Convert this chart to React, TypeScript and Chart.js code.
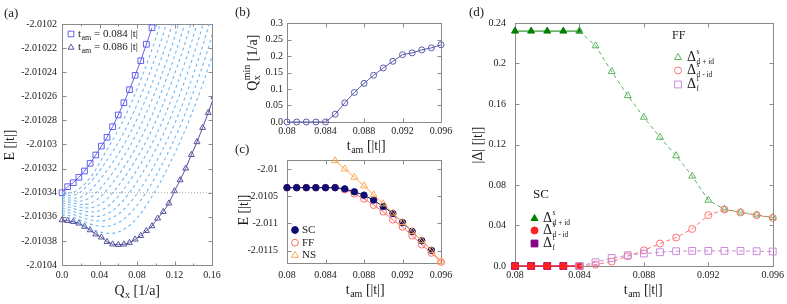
import React, { useEffect, useRef } from "react";
import { Chart, registerables } from "chart.js";

Chart.register(...registerables);

const PAGE_W = 787;
const PAGE_H = 304;
const SERIF = '"Liberation Serif", "DejaVu Serif", "Times New Roman", serif';
const TEXT = "#1a1a1a";
const FRAME = "#8a8a8a";

// ---------------- Panel (a): E vs Q_x ----------------
const aQSquares = [0, 0.006, 0.012, 0.018, 0.024, 0.03, 0.036, 0.042, 0.048, 0.054, 0.06, 0.066, 0.072, 0.078, 0.084, 0.09, 0.096];
const aESquares = [-2.01034, -2.010335, -2.0103317, -2.0103272, -2.010322, -2.0103156, -2.0103087, -2.0103013, -2.010294, -2.0102852, -2.0102755, -2.0102653, -2.0102545, -2.0102426, -2.0102305, -2.0102168, -2.0102031];
const aQTriangles = [0, 0.006, 0.012, 0.018, 0.024, 0.03, 0.036, 0.042, 0.048, 0.054, 0.06, 0.066, 0.072, 0.078, 0.084, 0.09, 0.096, 0.102, 0.108, 0.114, 0.12, 0.126, 0.132, 0.138, 0.144, 0.15, 0.156, 0.162];
const aETriangles = [-2.0103627, -2.0103633, -2.0103641, -2.0103654, -2.0103681, -2.010371, -2.0103745, -2.010377, -2.0103807, -2.0103828, -2.0103832, -2.0103828, -2.0103815, -2.0103787, -2.0103757, -2.0103716, -2.0103677, -2.0103613, -2.0103558, -2.0103488, -2.0103386, -2.0103295, -2.0103198, -2.0103085, -2.0102979, -2.0102861, -2.0102736, -2.0102605];
const aQDashed = [
  [0, 0.0101, 0.03, 0.0478, 0.0681, 0.0919, 0.1046, 0.1216],
  [0, 0.008, 0.0135, 0.019, 0.0552, 0.0751, 0.0986, 0.1111, 0.1281],
  [0, 0.013, 0.0204, 0.0277, 0.0626, 0.082, 0.1053, 0.1176, 0.1346],
  [0, 0.018, 0.0273, 0.0366, 0.07, 0.089, 0.112, 0.1242, 0.1412],
  [0, 0.023, 0.0342, 0.0454, 0.0774, 0.096, 0.1186, 0.1307, 0.1477],
  [0, 0.028, 0.0411, 0.0542, 0.0848, 0.103, 0.1253, 0.1373, 0.1543],
  [0, 0.032, 0.0476, 0.0631, 0.0923, 0.11, 0.132, 0.1439, 0.1609],
  [0, 0.036, 0.054, 0.0719, 0.0996, 0.1169, 0.1386, 0.1504, 0.1674],
  [0, 0.04, 0.0604, 0.0808, 0.1071, 0.124, 0.1453, 0.1569, 0.1739],
  [0, 0.045, 0.0673, 0.0895, 0.1144, 0.1309, 0.152, 0.1634, 0.1804],
  [0, 0.051, 0.0747, 0.0984, 0.1219, 0.1379, 0.1587, 0.17, 0.187],
];
const aEDashed = [
  [-2.0103406, -2.01034, -2.0103275, -2.0103046, -2.0102755, -2.0102299, -2.0102, -2.0101469],
  [-2.0103415, -2.0103423, -2.0103417, -2.01034, -2.0103046, -2.0102755, -2.0102299, -2.0102, -2.0101469],
  [-2.0103431, -2.0103446, -2.0103435, -2.01034, -2.0103046, -2.0102755, -2.0102299, -2.0102, -2.0101469],
  [-2.0103448, -2.0103471, -2.0103453, -2.01034, -2.0103046, -2.0102755, -2.0102299, -2.0102, -2.0101469],
  [-2.0103465, -2.0103498, -2.0103474, -2.01034, -2.0103046, -2.0102755, -2.0102299, -2.0102, -2.0101469],
  [-2.0103485, -2.0103527, -2.0103495, -2.01034, -2.0103046, -2.0102755, -2.0102299, -2.0102, -2.0101469],
  [-2.0103506, -2.010356, -2.010352, -2.01034, -2.0103046, -2.0102755, -2.0102299, -2.0102, -2.0101469],
  [-2.0103527, -2.0103597, -2.0103548, -2.01034, -2.0103046, -2.0102755, -2.0102299, -2.0102, -2.0101469],
  [-2.0103548, -2.0103635, -2.0103576, -2.01034, -2.0103046, -2.0102755, -2.0102299, -2.0102, -2.0101469],
  [-2.0103568, -2.010368, -2.010361, -2.01034, -2.0103046, -2.0102755, -2.0102299, -2.0102, -2.0101469],
  [-2.0103585, -2.0103738, -2.0103654, -2.01034, -2.0103046, -2.0102755, -2.0102299, -2.0102, -2.0101469],
];
const aRefE = -2.01034;
const aXTicks = [0, 0.04, 0.08, 0.12, 0.16];
const aXLabels = ["0.0", "0.04", "0.08", "0.12", "0.16"];
const aXMinor = [0.02, 0.06, 0.1, 0.14];
const aYTicks = [-2.0104, -2.01038, -2.01036, -2.01034, -2.01032, -2.0103, -2.01028, -2.01026, -2.01024, -2.01022, -2.0102];
const aYLabels = ["-2.0104", "-2.01038", "-2.01036", "-2.01034", "-2.01032", "-2.0103", "-2.01028", "-2.01026", "-2.01024", "-2.01022", "-2.0102"];
const aLegend = ["0.084", "0.086"];

// ---------------- Panel (b): Q_x^min vs t_am ----------------
const tAll = [0.08, 0.081, 0.082, 0.083, 0.084, 0.085, 0.086, 0.087, 0.088, 0.089, 0.09, 0.091, 0.092, 0.093, 0.094, 0.095, 0.096];
const bQmin = [0, 0, 0, 0, 0, 0.0235, 0.058, 0.0896, 0.117, 0.1415, 0.1637, 0.184, 0.204, 0.2095, 0.2186, 0.2247, 0.234];
const tXTicks = [0.08, 0.084, 0.088, 0.092, 0.096];
const tXLabels = ["0.08", "0.084", "0.088", "0.092", "0.096"];
const bYTicks = [0, 0.05, 0.1, 0.15, 0.2, 0.25, 0.3];
const bYLabels = ["0.0", "0.05", "0.1", "0.15", "0.2", "0.25", "0.3"];

// ---------------- Panel (c): E vs t_am ----------------
const cTSC = [0.08, 0.081, 0.082, 0.083, 0.084, 0.085, 0.086, 0.087, 0.088, 0.089, 0.09, 0.091, 0.092, 0.093, 0.094, 0.095];
const cESC = [-2.01034, -2.01034, -2.01034, -2.01034, -2.01034, -2.01034, -2.010362, -2.010417, -2.010478, -2.01057, -2.010687, -2.010816, -2.010982, -2.011147, -2.011318, -2.011496];
const cEFF = [-2.01034, -2.01034, -2.01034, -2.01034, -2.01034, -2.01034, -2.010375, -2.010454, -2.010546, -2.010662, -2.010785, -2.010932, -2.011066, -2.011226, -2.011392, -2.011544, -2.01171];
const cTNS = [0.085, 0.086, 0.087, 0.088, 0.089, 0.09, 0.091, 0.092, 0.093, 0.094, 0.095, 0.096];
const cENS = [-2.009842, -2.009995, -2.010147, -2.010307, -2.010472, -2.010638, -2.010809, -2.010982, -2.011147, -2.011318, -2.011496, -2.01171];
const cYTicks = [-2.0115, -2.011, -2.0105, -2.01];
const cYLabels = ["-2.0115", "-2.011", "-2.0105", "-2.01"];
const cLegend = ["SC", "FF", "NS"];

// ---------------- Panel (d): |Delta| vs t_am ----------------
const dTSC = [0.08, 0.081, 0.082, 0.083, 0.084];
const dSCdPlus = [0.232, 0.232, 0.232, 0.232, 0.232];
const dSCdMinus = [0, 0, 0, 0, 0];
const dSCtf = [0, 0, 0, 0, 0];
const dTFF = [0.084, 0.085, 0.086, 0.087, 0.088, 0.089, 0.09, 0.091, 0.092, 0.093, 0.094, 0.095, 0.096];
const dFFdPlus = [0.232, 0.2175, 0.1921, 0.1683, 0.1469, 0.1271, 0.1089, 0.0888, 0.065, 0.0561, 0.0532, 0.0505, 0.0479];
const dFFdMinus = [0, 0.0014, 0.0044, 0.0096, 0.0155, 0.0222, 0.0281, 0.0366, 0.0502, 0.0558, 0.0529, 0.0502, 0.0475];
const dFFtf = [0, 0.0037, 0.0079, 0.0106, 0.0123, 0.0136, 0.0146, 0.0149, 0.0149, 0.0149, 0.0149, 0.0146, 0.0143];
const dYTicks = [0, 0.04, 0.08, 0.12, 0.16, 0.2, 0.24];
const dYLabels = ["0.0", "0.04", "0.08", "0.12", "0.16", "0.2", "0.24"];

// ---------------- colours ----------------
const C_SQ = "#6161f0";
const C_TRI = "#55559f";
const C_DASH = "#72b6f5";
const C_REF = "#a8a8a8";
const C_B = "#5a5aad";
const C_SC = "#0c0c72";
const C_FF = "#ff6a6a";
const C_NS = "#ffaa50";
const C_G1 = "#008000";
const C_G2 = "#5cb65c";
const C_R1 = "#ff2020";
const C_R2 = "#ff7272";
const C_P1 = "#880088";
const C_P2 = "#c98bd8";
const NONE = "rgba(0,0,0,0)";

// ---------------- layout ----------------
const YW = 50;
const XH = 30;
type Area = { l: number; r: number; t: number; b: number };
const AREA_A: Area = { l: 62, r: 212, t: 24, b: 265 };
const AREA_B: Area = { l: 287, r: 441, t: 23, b: 122 };
const AREA_C: Area = { l: 287, r: 441, t: 160, b: 263 };
const AREA_D: Area = { l: 515, r: 773, t: 23, b: 266 };

type Part = { b: string; sup?: string; sub?: string };

function richWidth(ctx: CanvasRenderingContext2D, parts: Part[], size: number, small: number) {
  let w = 0;
  for (const p of parts) {
    ctx.font = `${size}px ${SERIF}`;
    w += ctx.measureText(p.b).width;
    ctx.font = `${small}px ${SERIF}`;
    const a = p.sup ? ctx.measureText(p.sup).width : 0;
    const b = p.sub ? ctx.measureText(p.sub).width : 0;
    w += Math.max(a, b);
  }
  return w;
}

function drawRich(
  ctx: CanvasRenderingContext2D,
  x: number,
  y: number,
  parts: Part[],
  size: number,
  small: number,
  align: "left" | "center" = "left",
  rotate = false
) {
  ctx.save();
  ctx.translate(x, y);
  if (rotate) ctx.rotate(-Math.PI / 2);
  ctx.fillStyle = TEXT;
  ctx.textBaseline = "middle";
  ctx.textAlign = "left";
  const w = richWidth(ctx, parts, size, small);
  let cx = align === "center" ? -w / 2 : 0;
  for (const p of parts) {
    ctx.font = `${size}px ${SERIF}`;
    ctx.fillText(p.b, cx, 0);
    cx += ctx.measureText(p.b).width;
    ctx.font = `${small}px ${SERIF}`;
    let ws = 0;
    if (p.sup) {
      ctx.fillText(p.sup, cx + 0.5, -size * 0.4);
      ws = Math.max(ws, ctx.measureText(p.sup).width + 0.5);
    }
    if (p.sub) {
      ctx.fillText(p.sub, cx + 0.5, size * 0.32);
      ws = Math.max(ws, ctx.measureText(p.sub).width + 0.5);
    }
    cx += ws;
  }
  ctx.restore();
}

function drawMarker(
  ctx: CanvasRenderingContext2D,
  style: string,
  x: number,
  y: number,
  r: number,
  stroke: string,
  fill: string | null
) {
  ctx.save();
  ctx.beginPath();
  if (style === "circle") {
    ctx.arc(x, y, r, 0, Math.PI * 2);
  } else if (style === "rect") {
    const s = Math.SQRT1_2 * r;
    ctx.rect(x - s, y - s, 2 * s, 2 * s);
  } else {
    const k = (2 * Math.PI) / 3;
    ctx.moveTo(x, y - r);
    ctx.lineTo(x + Math.sin(k) * r, y - Math.cos(k) * r);
    ctx.lineTo(x + Math.sin(2 * k) * r, y - Math.cos(2 * k) * r);
    ctx.closePath();
  }
  if (fill) {
    ctx.fillStyle = fill;
    ctx.fill();
  }
  ctx.lineWidth = 1;
  ctx.strokeStyle = stroke;
  ctx.stroke();
  ctx.restore();
}

function framePlugin(minorX: number[], minorY: number[]) {
  return {
    id: "frame",
    beforeDatasetsDraw(chart: any) {
      const { ctx, chartArea: a, scales } = chart;
      const xs = scales.x;
      const ys = scales.y;
      ctx.save();
      ctx.strokeStyle = FRAME;
      ctx.lineWidth = 1;
      const L = Math.round(a.left) + 0.5;
      const R = Math.round(a.right) + 0.5;
      const T = Math.round(a.top) + 0.5;
      const B = Math.round(a.bottom) + 0.5;
      ctx.strokeRect(L, T, R - L, B - T);
      ctx.beginPath();
      const tx = (v: number, len: number) => {
        const p = Math.round(xs.getPixelForValue(v)) + 0.5;
        ctx.moveTo(p, B);
        ctx.lineTo(p, B - len);
        ctx.moveTo(p, T);
        ctx.lineTo(p, T + len);
      };
      const ty = (v: number, len: number) => {
        const p = Math.round(ys.getPixelForValue(v)) + 0.5;
        ctx.moveTo(L, p);
        ctx.lineTo(L + len, p);
        ctx.moveTo(R, p);
        ctx.lineTo(R - len, p);
      };
      xs.ticks.forEach((t: any) => tx(t.value, 4));
      ys.ticks.forEach((t: any) => ty(t.value, 4));
      minorX.forEach((v) => tx(v, 2));
      minorY.forEach((v) => ty(v, 2));
      ctx.stroke();
      ctx.restore();
    },
  };
}

function textPlugin(draw: (ctx: CanvasRenderingContext2D) => void) {
  return {
    id: "texts",
    afterDraw(chart: any) {
      const ctx = chart.ctx as CanvasRenderingContext2D;
      ctx.save();
      draw(ctx);
      ctx.restore();
    },
  };
}

function series(xs: number[], ys: number[], o: any) {
  return {
    data: xs.map((x, i) => ({ x, y: ys[i] })),
    showLine: true,
    fill: false,
    borderWidth: 1,
    pointRadius: 0,
    pointBorderWidth: 1,
    ...o,
  };
}

function baseOptions(p: {
  area: Area;
  xMin: number;
  xMax: number;
  yMin: number;
  yMax: number;
  xTicks: number[];
  xLabels: string[];
  yTicks: number[];
  yLabels: string[];
  xPad: number;
  yPad: number;
}) {
  const tickFont = { family: SERIF, size: 10 };
  return {
    responsive: false,
    maintainAspectRatio: false,
    animation: false,
    devicePixelRatio: 1,
    events: [],
    layout: {
      padding: {
        left: p.area.l - YW,
        right: PAGE_W - p.area.r,
        top: p.area.t,
        bottom: PAGE_H - p.area.b - XH,
      },
    },
    plugins: { legend: { display: false }, tooltip: { enabled: false } },
    scales: {
      x: {
        type: "linear",
        min: p.xMin,
        max: p.xMax,
        grid: { display: false, drawTicks: false },
        border: { display: false },
        afterFit: (s: any) => {
          s.height = XH;
        },
        afterBuildTicks: (s: any) => {
          s.ticks = p.xTicks.map((v) => ({ value: v }));
        },
        ticks: {
          callback: (_v: any, i: number) => p.xLabels[i],
          font: tickFont,
          color: TEXT,
          padding: p.xPad,
          autoSkip: false,
          maxRotation: 0,
          minRotation: 0,
        },
      },
      y: {
        type: "linear",
        min: p.yMin,
        max: p.yMax,
        grid: { display: false, drawTicks: false },
        border: { display: false },
        afterFit: (s: any) => {
          s.width = YW;
        },
        afterBuildTicks: (s: any) => {
          s.ticks = p.yTicks.map((v) => ({ value: v }));
        },
        ticks: {
          callback: (_v: any, i: number) => p.yLabels[i],
          font: tickFont,
          color: TEXT,
          padding: p.yPad,
          autoSkip: false,
        },
      },
    },
  };
}

const TAM: Part[] = [{ b: "t", sub: "am" }, { b: " [|t|]" }];

function configA() {
  const dashed = aQDashed.map((qs, k) =>
    series(qs, aEDashed[k], {
      borderColor: C_DASH,
      borderDash: [3, 3],
      borderWidth: 1.1,
      cubicInterpolationMode: "monotone",
    })
  );
  return {
    type: "line",
    data: {
      datasets: [
        ...dashed,
        series([0, 0.16], [aRefE, aRefE], { borderColor: C_REF, borderDash: [1, 2] }),
        series(aQTriangles, aETriangles, {
          borderColor: C_TRI,
          pointStyle: "triangle",
          pointRadius: 3.4,
          pointBorderColor: C_TRI,
          pointBackgroundColor: NONE,
          clip: { left: 6, top: 6, right: 0, bottom: 6 },
        }),
        series(aQSquares, aESquares, {
          borderColor: C_SQ,
          pointStyle: "rect",
          pointRadius: 4,
          pointBorderColor: C_SQ,
          pointBackgroundColor: NONE,
          clip: false,
        }),
      ],
    },
    options: baseOptions({
      area: AREA_A,
      xMin: 0,
      xMax: 0.16,
      yMin: -2.0104,
      yMax: -2.0102,
      xTicks: aXTicks,
      xLabels: aXLabels,
      yTicks: aYTicks,
      yLabels: aYLabels,
      xPad: 4,
      yPad: 5,
    }),
    plugins: [
      framePlugin(aXMinor, []),
      textPlugin((ctx) => {
        drawRich(ctx, 4, 14, [{ b: "(a)" }], 13, 9);
        drawRich(ctx, 10, 145, [{ b: "E [|t|]" }], 14, 10, "center", true);
        drawRich(ctx, 137, 291, [{ b: "Q", sub: "x" }, { b: " [1/a]" }], 14, 10, "center");
        drawMarker(ctx, "rect", 71, 34, 4, C_SQ, null);
        drawRich(ctx, 78, 34, [{ b: "t", sub: "am" }, { b: ` = ${aLegend[0]} |t|` }], 11, 8);
        drawMarker(ctx, "triangle", 71, 47.5, 3.4, C_TRI, null);
        drawRich(ctx, 78, 47.5, [{ b: "t", sub: "am" }, { b: ` = ${aLegend[1]} |t|` }], 11, 8);
      }),
    ],
  };
}

function configB() {
  return {
    type: "line",
    data: {
      datasets: [
        series(tAll, bQmin, {
          borderColor: C_B,
          pointStyle: "circle",
          pointRadius: 3,
          pointBorderColor: C_B,
          pointBackgroundColor: NONE,
          clip: false,
        }),
      ],
    },
    options: baseOptions({
      area: AREA_B,
      xMin: 0.08,
      xMax: 0.096,
      yMin: 0,
      yMax: 0.3,
      xTicks: tXTicks,
      xLabels: tXLabels,
      yTicks: bYTicks,
      yLabels: bYLabels,
      xPad: 3,
      yPad: 4,
    }),
    plugins: [
      framePlugin([], []),
      textPlugin((ctx) => {
        drawRich(ctx, 235, 13, [{ b: "(b)" }], 13, 9);
        drawRich(ctx, 253, 63, [{ b: "Q", sub: "x", sup: "min" }, { b: " [1/a]" }], 14, 10, "center", true);
        drawRich(ctx, 366, 146, TAM, 14, 10, "center");
      }),
    ],
  };
}

function configC() {
  return {
    type: "line",
    data: {
      datasets: [
        series(cTNS, cENS, {
          borderColor: C_NS,
          pointStyle: "triangle",
          pointRadius: 4,
          pointBorderColor: C_NS,
          pointBackgroundColor: NONE,
          clip: false,
        }),
        series(cTSC, cESC, {
          borderColor: C_SC,
          pointStyle: "circle",
          pointRadius: 3.2,
          pointBorderColor: C_SC,
          pointBackgroundColor: C_SC,
          clip: false,
        }),
        series(tAll, cEFF, {
          borderColor: C_FF,
          pointStyle: "circle",
          pointRadius: 3.4,
          pointBorderColor: C_FF,
          pointBackgroundColor: NONE,
          clip: false,
        }),
      ],
    },
    options: baseOptions({
      area: AREA_C,
      xMin: 0.08,
      xMax: 0.096,
      yMin: -2.01173,
      yMax: -2.00983,
      xTicks: tXTicks,
      xLabels: tXLabels,
      yTicks: cYTicks,
      yLabels: cYLabels,
      xPad: 6,
      yPad: 9,
    }),
    plugins: [
      framePlugin([], []),
      textPlugin((ctx) => {
        drawRich(ctx, 235, 150, [{ b: "(c)" }], 13, 9);
        drawRich(ctx, 244, 210, [{ b: "E [|t|]" }], 14, 10, "center", true);
        drawRich(ctx, 365, 290, TAM, 14, 10, "center");
        drawMarker(ctx, "circle", 295, 230, 3.4, C_SC, C_SC);
        drawRich(ctx, 302, 230, [{ b: cLegend[0] }], 11, 8);
        drawMarker(ctx, "circle", 295, 242.7, 3.4, C_FF, null);
        drawRich(ctx, 302, 242.7, [{ b: cLegend[1] }], 11, 8);
        drawMarker(ctx, "triangle", 295, 255.3, 4, C_NS, null);
        drawRich(ctx, 302, 255.3, [{ b: cLegend[2] }], 11, 8);
      }),
    ],
  };
}

function configD() {
  const ff = { borderDash: [4, 3], pointBackgroundColor: NONE, clip: false };
  return {
    type: "line",
    data: {
      datasets: [
        series(dTFF, dFFtf, { ...ff, borderColor: C_P2, pointBorderColor: C_P2, pointStyle: "rect", pointRadius: 4.8 }),
        series(dTFF, dFFdMinus, { ...ff, borderColor: C_R2, pointBorderColor: C_R2, pointStyle: "circle", pointRadius: 3.5 }),
        series(dTFF, dFFdPlus, { ...ff, borderColor: C_G2, pointBorderColor: C_G2, pointStyle: "triangle", pointRadius: 4 }),
        series(dTSC, dSCdMinus, { borderColor: C_R1, pointBorderColor: C_R1, pointBackgroundColor: C_R1, pointStyle: "circle", pointRadius: 3.5, clip: false }),
        series(dTSC, dSCtf, { borderColor: C_P1, pointBorderColor: C_P1, pointBackgroundColor: C_P1, pointStyle: "rect", pointRadius: 4.8, clip: false }),
        series(dTSC, dSCdPlus, { borderColor: C_G1, pointBorderColor: C_G1, pointBackgroundColor: C_G1, pointStyle: "triangle", pointRadius: 4, clip: false }),
      ],
    },
    options: baseOptions({
      area: AREA_D,
      xMin: 0.08,
      xMax: 0.096,
      yMin: 0,
      yMax: 0.24,
      xTicks: tXTicks,
      xLabels: tXLabels,
      yTicks: dYTicks,
      yLabels: dYLabels,
      xPad: 3,
      yPad: 9,
    }),
    plugins: [
      framePlugin([], []),
      textPlugin((ctx) => {
        drawRich(ctx, 469, 13, [{ b: "(d)" }], 13, 9);
        drawRich(ctx, 478, 145, [{ b: "|Δ| [|t|]" }], 14, 10, "center", true);
        drawRich(ctx, 643, 290, TAM, 14, 10, "center");
        drawRich(ctx, 672, 36, [{ b: "FF" }], 12, 8);
        drawMarker(ctx, "triangle", 678, 57.5, 4, C_G2, null);
        drawRich(ctx, 687, 57.5, [{ b: "Δ", sup: "s", sub: "d + id" }], 14, 7.5);
        drawMarker(ctx, "circle", 678, 70.5, 3.5, C_R2, null);
        drawRich(ctx, 687, 70.5, [{ b: "Δ", sup: "s", sub: "d - id" }], 14, 7.5);
        drawMarker(ctx, "rect", 678, 84.5, 4.8, C_P2, null);
        drawRich(ctx, 687, 84.5, [{ b: "Δ", sup: "t", sub: "f" }], 14, 7.5);
        drawRich(ctx, 533, 195, [{ b: "SC" }], 13, 9);
        drawMarker(ctx, "triangle", 534.5, 218.5, 4, C_G1, C_G1);
        drawRich(ctx, 543, 218.5, [{ b: "Δ", sup: "s", sub: "d + id" }], 14, 7.5);
        drawMarker(ctx, "circle", 534.5, 230.5, 3.5, C_R1, C_R1);
        drawRich(ctx, 543, 230.5, [{ b: "Δ", sup: "s", sub: "d - id" }], 14, 7.5);
        drawMarker(ctx, "rect", 534.5, 243.5, 4.8, C_P1, C_P1);
        drawRich(ctx, 543, 243.5, [{ b: "Δ", sup: "t", sub: "f" }], 14, 7.5);
      }),
    ],
  };
}

function ChartCanvas({ make }: { make: () => any }) {
  const ref = useRef<HTMLCanvasElement>(null);
  useEffect(() => {
    if (!ref.current) return;
    const chart = new Chart(ref.current, make());
    return () => chart.destroy();
  }, [make]);
  return (
    <canvas
      ref={ref}
      width={PAGE_W}
      height={PAGE_H}
      style={{ position: "absolute", left: 0, top: 0, width: PAGE_W, height: PAGE_H }}
    />
  );
}

export default function App() {
  return (
    <div
      style={{
        position: "absolute",
        left: 0,
        top: 0,
        width: PAGE_W,
        height: PAGE_H,
        overflow: "hidden",
        background: "#ffffff",
      }}
    >
      <ChartCanvas make={configA} />
      <ChartCanvas make={configB} />
      <ChartCanvas make={configC} />
      <ChartCanvas make={configD} />
    </div>
  );
}
